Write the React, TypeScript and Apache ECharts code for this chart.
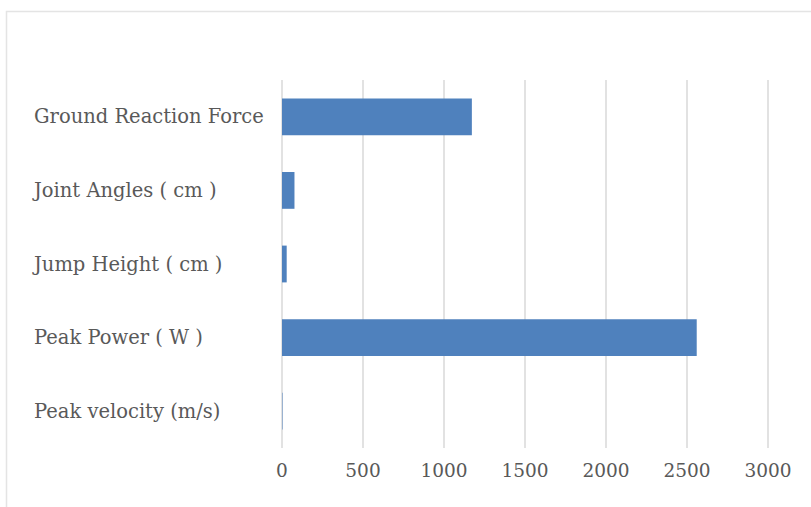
import React, { useEffect, useRef } from "react";
import * as echarts from "echarts";

const categories = [
  "Peak velocity (m/s)",
  "Peak Power ( W )",
  "Jump Height ( cm )",
  "Joint Angles ( cm )",
  "Ground Reaction Force",
];
const values = [3, 2560, 29, 77, 1172];
const xTicks = { min: 0, max: 3000, interval: 500 };

export default function App() {
  const ref = useRef<HTMLDivElement>(null);
  useEffect(() => {
    if (!ref.current) return;
    const chart = echarts.init(ref.current, null, { renderer: "svg" });
    chart.setOption({
      animation: false,
      backgroundColor: "#ffffff",
      graphic: [
        {
          type: "rect",
          shape: { x: 6.5, y: 11.5, width: 900, height: 600 },
          style: { fill: "none", stroke: "#e4e4e4", lineWidth: 1.5 },
          silent: true,
        },
      ],
      grid: { left: 282, right: 43, top: 80, bottom: 59, containLabel: false },
      xAxis: {
        type: "value",
        min: xTicks.min,
        max: xTicks.max,
        interval: xTicks.interval,
        axisLine: { show: false },
        axisTick: { show: false },
        splitLine: { lineStyle: { color: "#d9d9d9", width: 1.5 } },
        axisLabel: {
          color: "#595959",
          fontFamily: "DejaVu Serif",
          fontSize: 18.5,
          margin: 13,
          formatter: (v: number) => String(v),
        },
      },
      yAxis: {
        type: "category",
        data: categories,
        axisLine: { show: false },
        axisTick: { show: false },
        axisLabel: {
          align: "left",
          margin: 248,
          color: "#595959",
          fontFamily: "DejaVu Serif",
          fontSize: 19.5,
        },
      },
      series: [
        {
          type: "bar",
          data: values,
          barCategoryGap: "50%",
          itemStyle: { color: "#4f81bd" },
        },
      ],
    });
    return () => chart.dispose();
  }, []);
  return <div ref={ref} style={{ width: 811, height: 507, position: "absolute", left: 0, top: 0 }} />;
}
